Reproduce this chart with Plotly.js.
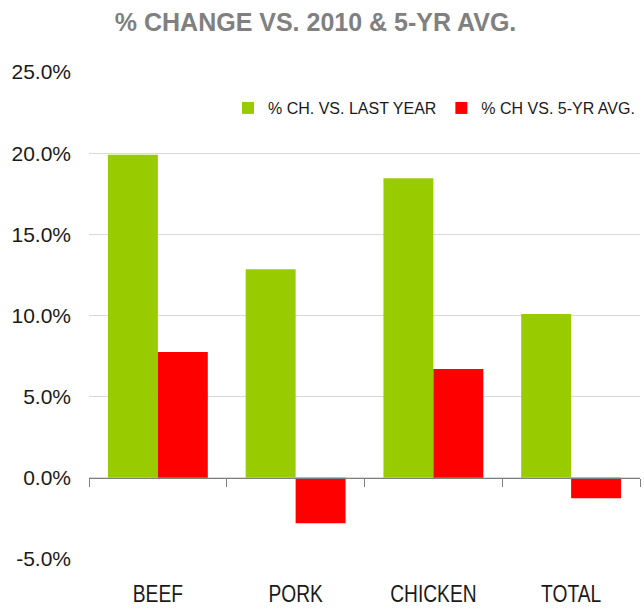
<!DOCTYPE html>
<html><head><meta charset="utf-8">
<script src="https://cdn.plot.ly/plotly-3.0.1.min.js"></script>
<style>html,body{margin:0;padding:0;background:#fff}#chart{width:644px;height:608px}</style>
</head><body><div id="chart"></div>
<script>
const categories = ["BEEF", "PORK", "CHICKEN", "TOTAL"];
const vsLastYear = [19.9, 12.85, 18.45, 10.1];
const vs5YrAvg = [7.75, -2.8, 6.7, -1.25];
const seriesNames = ["% CH. VS. LAST YEAR", "% CH VS. 5-YR AVG."];
const yTickVals = [-5, 0, 5, 10, 15, 20, 25];
const yTickText = ["-5.0%", "0.0%", "5.0%", "10.0%", "15.0%", "20.0%", "25.0%"];
const boundaryTicks = [-0.5, 0.5, 1.5, 2.5, 3.5];

const F = "'Liberation Sans', Arial, sans-serif";
const data = [
  {type: "bar", name: seriesNames[0], x: categories, y: vsLastYear, marker: {color: "#99CC00"}, hoverinfo: "none"},
  {type: "bar", name: seriesNames[1], x: categories, y: vs5YrAvg, marker: {color: "#FF0000"}, hoverinfo: "none"},
  {type: "scatter", x: [], y: [], xaxis: "x2", showlegend: false, hoverinfo: "none"}
];
const layout = {
  width: 644, height: 608,
  margin: {l: 89, r: 4, t: 72, b: 49},
  paper_bgcolor: "#fff", plot_bgcolor: "#fff",
  font: {family: F, color: "#1a1a1a"},
  title: {text: "<b>% CHANGE VS. 2010 & 5-YR AVG.</b>", font: {family: F, size: 25, color: "#808080"}, x: 0.49, xref: "container", xanchor: "center", y: 0.964, yanchor: "middle"},
  barmode: "group", bargap: 0.275, bargroupgap: 0,
  xaxis: {type: "category", showgrid: false, showline: false, zeroline: false, ticks: "", tickfont: {size: 24, color: "#1a1a1a"}, ticklabelstandoff: 18},
  xaxis2: {overlaying: "x", anchor: "free", position: 1/6, range: [-0.5, 3.5], showgrid: false, zeroline: false, showline: true, linecolor: "#7f7f7f", linewidth: 1.2, ticks: "outside", tickvals: boundaryTicks, ticklen: 8, tickcolor: "#7f7f7f", showticklabels: false},
  yaxis: {range: [-5, 25], tickvals: yTickVals, ticktext: yTickText, showgrid: true, gridcolor: "#d9d9d9", gridwidth: 1, zeroline: false, showline: false, ticks: "", tickfont: {size: 21, color: "#1a1a1a"}, ticklabelstandoff: 17},
  legend: {orientation: "h", x: 1, xanchor: "right", y: 0.926, yanchor: "middle", font: {size: 16, color: "#1a1a1a"}, itemwidth: 30, bgcolor: "rgba(0,0,0,0)"},
  showlegend: true
};
Plotly.newPlot("chart", data, layout, {displayModeBar: false, staticPlot: true}).then(function (gd) {
  // the reference uses a narrow typeface for category labels: condense them horizontally
  gd.querySelectorAll(".xtick text").forEach(function (t) {
    const w = t.getComputedTextLength();
    t.setAttribute("textLength", (w * 0.8).toFixed(1));
    t.setAttribute("lengthAdjust", "spacingAndGlyphs");
  });
});
</script></body></html>
